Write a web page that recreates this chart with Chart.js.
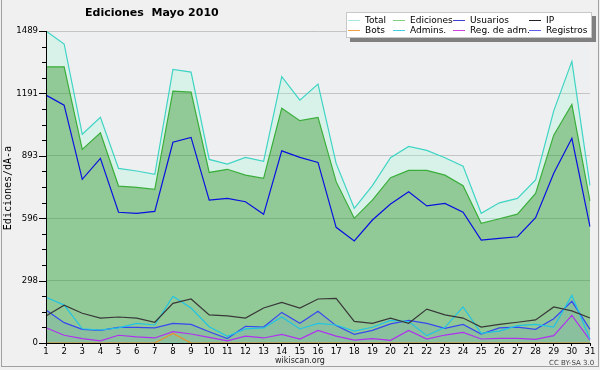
<!DOCTYPE html>
<html>
<head>
<meta charset="utf-8">
<script src="https://cdn.jsdelivr.net/npm/chart.js@4"></script>
<style>
    body { margin: 0; background: #f0f0f0; }
    #caja { position: relative; width: 600px; height: 370px; overflow: hidden; }
    #grafico { position: absolute; left: 0; top: 0; }
    .txt { position: absolute; white-space: pre; color: #000; font-family: "DejaVu Sans", sans-serif; }
    #marco { position: absolute; left: 1px; top: 0; width: 596px; height: 366px;
             border-left: 1px solid #a0a0a0; border-right: 1px solid #a0a0a0; border-bottom: 1px solid #a0a0a0;
             pointer-events: none; }
    #leyenda { position: absolute; left: 346px; top: 12px; width: 244px; height: 24px; background: #fff;
               border: 1px solid #c8c8c8; box-shadow: 4px 4px 0 #808080; }
    .item { position: absolute; font: 9px "DejaVu Sans", sans-serif; line-height: 10px; white-space: pre; }
    .muestra { position: absolute; height: 1px; width: 12px; }
</style>
</head>
<body>
<div id="caja">
    <canvas id="grafico" width="600" height="370"></canvas>
    <div class="txt" style="left:85px; top:6px; font-size:11px; font-weight:bold;">Ediciones  Mayo 2010</div>
    <div class="txt" style="left:-92px; top:182px; width:200px; text-align:center; font:10px 'DejaVu Sans Mono', monospace; line-height:12px; transform:rotate(-90deg);">Ediciones/dÃ-a</div>
    <div class="txt" style="left:250px; top:356px; width:100px; text-align:center; font-size:8px; color:#222;">wikiscan.org</div>
    <div class="txt" style="left:549px; top:359px; font-size:7px; color:#444;">CC BY-SA 3.0</div>
    <div id="leyenda"></div>
    <div id="marco"></div>
</div>
<script>
// Datos
const dias = Array.from({ length: 31 }, (_, i) => String(i + 1));
const total     = [1489, 1427, 996, 1077, 833, 821, 805, 1306, 1293, 876, 854, 886, 867, 1271, 1159, 1236, 857, 643, 751, 884, 938, 919, 884, 844, 619, 669, 690, 778, 1108, 1344, 751];
const ediciones = [1318, 1318, 924, 1003, 749, 743, 733, 1202, 1197, 814, 829, 801, 786, 1120, 1061, 1077, 770, 595, 682, 789, 824, 824, 801, 751, 571, 593, 615, 714, 992, 1139, 677];
const usuarios  = [1183, 1135, 781, 881, 624, 619, 628, 958, 981, 682, 690, 674, 614, 917, 886, 862, 552, 487, 587, 663, 722, 654, 666, 624, 491, 499, 507, 598, 810, 977, 555];
const ip        = [129, 180, 142, 119, 124, 119, 99, 189, 210, 134, 129, 119, 167, 194, 167, 210, 213, 103, 94, 119, 94, 162, 134, 119, 76, 89, 99, 110, 172, 153, 119];
const bots      = [0, 0, 0, 0, 0, 0, 0, 46, 0, 0, 0, 0, 0, 0, 0, 0, 0, 0, 0, 0, 0, 0, 0, 0, 0, 0, 0, 0, 0, 0, 0];
const admins    = [218, 181, 68, 62, 72, 94, 86, 223, 167, 78, 32, 67, 72, 124, 67, 94, 86, 57, 75, 108, 102, 35, 75, 172, 46, 57, 83, 89, 76, 227, 18];
const regAdm    = [73, 37, 21, 10, 37, 29, 24, 54, 43, 27, 10, 33, 24, 41, 19, 60, 33, 14, 21, 13, 60, 19, 38, 51, 19, 22, 22, 17, 35, 132, 14];
const registros = [157, 97, 65, 60, 75, 75, 72, 94, 89, 54, 21, 80, 76, 146, 94, 151, 83, 41, 60, 91, 108, 94, 70, 89, 43, 72, 76, 65, 116, 199, 65];

// Marcas del eje Y
const ticksY = [0, 298, 596, 893, 1191, 1489];

const fuenteEjes = { family: "'DejaVu Sans Condensed', 'DejaVu Sans', sans-serif", size: 9.5 };

// Leyenda en HTML (4 columnas x 2 filas)
const leyenda = [
    { nombre: "Total", color: "#a8e8e0" },
    { nombre: "Ediciones", color: "#80d080" },
    { nombre: "Usuarios", color: "#4040d0" },
    { nombre: "IP", color: "#202020" },
    { nombre: "Bots", color: "#f0a040" },
    { nombre: "Admins.", color: "#40d0e0" },
    { nombre: "Reg. de adm.", color: "#d040e0" },
    { nombre: "Registros", color: "#6060f0" }
];
const colX = [1, 46, 106, 182];
const cajaLeyenda = document.getElementById("leyenda");
leyenda.forEach((l, i) => {
    const x = colX[i % 4];
    const y = i < 4 ? 6 : 16;
    const m = document.createElement("div");
    m.className = "muestra";
    m.style.cssText = `left:${x}px; top:${y + 1}px; background:${l.color};`;
    const t = document.createElement("div");
    t.className = "item";
    t.style.cssText = `left:${x + 17}px; top:${y - 4}px;`;
    t.textContent = l.nombre;
    cajaLeyenda.appendChild(m);
    cajaLeyenda.appendChild(t);
});

// Fondo del área de trazado
const fondo = {
    id: "fondo",
    beforeDraw(chart) {
        const { ctx, chartArea: a } = chart;
        ctx.save();
        ctx.fillStyle = "#eeeff1";
        ctx.fillRect(a.left, a.top, a.right - a.left, a.bottom - a.top);
        ctx.restore();
    }
};

// Marcas mayores y menores del eje Y
const marcasY = {
    id: "marcasY",
    afterDatasetsDraw(chart) {
        const y = chart.scales.y;
        const ctx = chart.ctx;
        ctx.save();
        ctx.strokeStyle = "#000";
        ctx.lineWidth = 1;
        y.ticks.forEach((t, i) => {
            const py = Math.round(y.getPixelForValue(t.value)) + 0.5;
            const largo = i % 4 === 0 ? 7 : 4;
            ctx.beginPath();
            ctx.moveTo(y.right - largo, py);
            ctx.lineTo(y.right, py);
            ctx.stroke();
        });
        ctx.restore();
    }
};

function serie(label, data, color, orden, extra) {
    return Object.assign({
        label, data, borderColor: color, borderWidth: 1.2,
        pointRadius: 0, tension: 0, fill: false, order: orden
    }, extra || {});
}

new Chart(document.getElementById("grafico"), {
    type: "line",
    data: {
        labels: dias,
        datasets: [
            serie("Total", total, "#3fd4c4", 10, { fill: "+1", backgroundColor: "rgba(150,250,215,0.25)" }),
            serie("Ediciones", ediciones, "#3aae3a", 9, { fill: "origin", backgroundColor: "rgba(40,160,50,0.465)" }),
            serie("Usuarios", usuarios, "#0a10e0", 8),
            serie("IP", ip, "#383838", 4),
            serie("Bots", bots, "#e8902a", 3),
            serie("Admins.", admins, "#20c4e4", 5),
            serie("Reg. de adm.", regAdm, "#b030f0", 6),
            serie("Registros", registros, "#3848f0", 7, { fill: "origin", backgroundColor: "rgba(60,80,240,0.08)" })
        ]
    },
    options: {
        responsive: false,
        animation: false,
        layout: { padding: { top: 31, right: 10, left: 0, bottom: 0 } },
        plugins: { legend: { display: false }, tooltip: { enabled: false } },
        scales: {
            x: {
                type: "category",
                offset: false,
                grid: { display: true, drawOnChartArea: false, tickLength: 3, color: "#000" },
                border: { color: "#000", z: 1 },
                ticks: { autoSkip: false, maxRotation: 0, padding: 0, color: "#000", font: fuenteEjes },
                afterFit(s) { s.height = 27; }
            },
            y: {
                min: 0,
                max: ticksY[ticksY.length - 1],
                afterBuildTicks(s) {
                    const marcas = [];
                    for (let i = 0; i < ticksY.length - 1; i++) {
                        for (let k = 0; k < 4; k++) {
                            marcas.push({ value: ticksY[i] + (ticksY[i + 1] - ticksY[i]) * k / 4 });
                        }
                    }
                    marcas.push({ value: ticksY[ticksY.length - 1] });
                    s.ticks = marcas;
                },
                grid: {
                    drawTicks: false,
                    color: c => (c.index % 4 === 0 && c.index > 0) ? "#c4c4c4" : "rgba(0,0,0,0)"
                },
                border: { color: "#000", z: 1 },
                ticks: {
                    autoSkip: false,
                    padding: 8,
                    color: "#000",
                    font: fuenteEjes,
                    callback: (v, i) => i % 4 === 0 ? String(Math.round(v)) : ""
                },
                afterFit(s) { s.width = 46; }
            }
        }
    },
    plugins: [fondo, marcasY]
});
</script>
</body>
</html>
